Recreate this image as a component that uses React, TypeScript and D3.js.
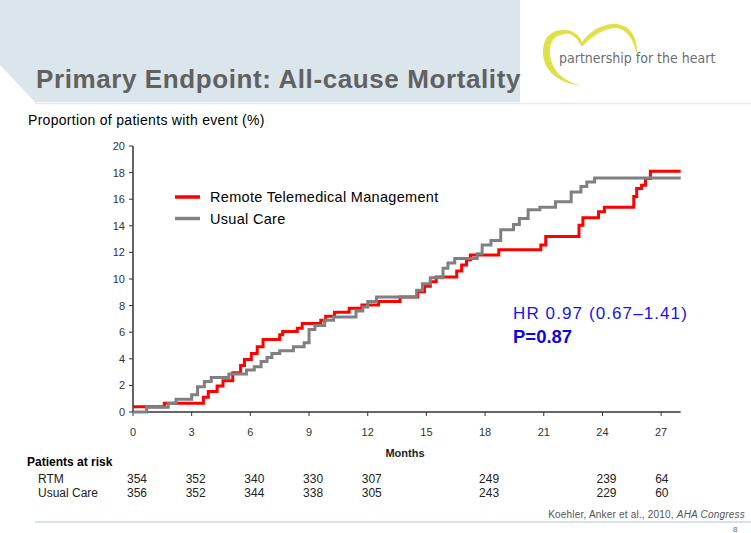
import * as d3 from "d3";

// Kaplan-Meier style step curves: [month, % with event]
const rtmSteps: [number, number][] = [
  [0, 0.4], [1.6, 0.65], [3.6, 1.1], [3.85, 1.55], [4.3, 1.95], [4.6, 2.35], [5.1, 2.95],
  [5.5, 3.5], [5.7, 3.95], [6.05, 4.4], [6.35, 4.9], [6.65, 5.45], [7.5, 5.8], [7.65, 6.05],
  [8.4, 6.3], [8.65, 6.65], [9.6, 6.9], [9.85, 7.2], [10.3, 7.5], [11.05, 7.8], [11.7, 8.05],
  [12.55, 8.3], [13.65, 8.65], [14.55, 9.05], [14.9, 9.45], [15.2, 9.8], [15.5, 10.15],
  [16.55, 10.6], [16.8, 11.05], [17.05, 11.45], [17.25, 11.8], [18.7, 12.2], [20.85, 12.55],
  [21.1, 13.2], [22.8, 14.05], [23.0, 14.6], [23.8, 15.05], [24.1, 15.4], [25.6, 16.2],
  [25.75, 16.8], [26.0, 17.05], [26.2, 17.55], [26.45, 18.1], [28, 18.1],
];

const usualSteps: [number, number][] = [
  [0, 0], [0.7, 0.35], [1.8, 0.65], [2.2, 0.95], [3.0, 1.3], [3.3, 1.9], [3.65, 2.3],
  [4.0, 2.6], [4.9, 2.85], [5.8, 3.15], [6.2, 3.4], [6.55, 3.8], [6.85, 4.1], [7.1, 4.4],
  [7.5, 4.6], [8.2, 4.9], [8.75, 5.2], [9.0, 6.2], [9.3, 6.5], [9.8, 6.9], [10.25, 7.15],
  [11.4, 7.6], [11.75, 7.9], [12.0, 8.3], [12.45, 8.65], [14.5, 9.15], [14.8, 9.65],
  [15.2, 10.1], [15.85, 10.8], [16.1, 11.2], [16.45, 11.55], [17.6, 11.9], [17.85, 12.55],
  [18.3, 12.9], [18.8, 13.7], [19.45, 14.1], [19.75, 14.55], [20.2, 15.2], [20.8, 15.4],
  [21.6, 15.8], [22.4, 16.55], [22.9, 16.95], [23.2, 17.3], [23.6, 17.6], [28, 17.6],
];

const yTicks = [0, 2, 4, 6, 8, 10, 12, 14, 16, 18, 20];
const xTicks = [0, 3, 6, 9, 12, 15, 18, 21, 24, 27];

const riskMonths = [0, 3, 6, 9, 12, 18, 24, 27];
const riskRTM = [354, 352, 340, 330, 307, 249, 239, 64];
const riskUsual = [356, 352, 344, 338, 305, 243, 229, 60];

const seriesNames = ["Remote Telemedical Management", "Usual Care"];
const seriesColors = ["#ff0000", "#808080"];

const W = 751, H = 533;
const FONT = "'Liberation Sans', Arial, sans-serif";

export default function App() {
  const x = d3.scaleLinear().domain([0, 28]).range([133, 680.7]);
  const y = d3.scaleLinear().domain([0, 20]).range([412, 146]);

  const line = d3.line<[number, number]>()
    .x(d => x(d[0]))
    .y(d => y(d[1]))
    .curve(d3.curveStepAfter);

  const series = [rtmSteps, usualSteps];

  return (
    <svg width={W} height={H} style={{ position: "absolute", left: 0, top: 0, background: "#fff" }}
      fontFamily={FONT}>
      {/* header band */}
      <path d="M0,0 H520 V102 H35 L0,65 Z" fill="#dae5ec" />
      <line x1={35} x2={751} y1={103.5} y2={103.5} stroke="#e3ebf0" strokeWidth={1.5} />
      <text x={36} y={88} fontSize={26} fontWeight="bold" fill="#616161" letterSpacing={0.6}>
        Primary Endpoint: All-cause Mortality
      </text>

      {/* logo */}
      <path
        d="M584,86 C560,84 542,72 543,50 C544,36 552,29 566,30 C575,31 580,36 582,42 C590,30 604,23 617,24 C631,26 638,38 637,55 C634,41 628,30 617,28 C604,28 592,36 583,46 L581,46 C577,38 572,33 565,34 C555,35 549,42 550,53 C551,70 563,82 584,86 Z"
        fill="#dfe04a" />
      <text x={559} y={63} fontSize={14} fill="#6e6e6e" fontFamily="'DejaVu Sans Condensed', 'Liberation Sans Narrow', sans-serif">
        partnership for the heart
      </text>

      {/* y label */}
      <text x={28} y={125} fontSize={14} fill="#000" letterSpacing={0.3}>Proportion of patients with event (%)</text>

      {/* axes */}
      <line x1={x(0)} x2={x(0)} y1={y(20)} y2={y(0)} stroke="#333" strokeWidth={1.5} />
      <line x1={x(0)} x2={x(28)} y1={y(0)} y2={y(0)} stroke="#333" strokeWidth={1.5} />
      {yTicks.map(t => (
        <g key={"y" + t}>
          <line x1={x(0) - 4} x2={x(0)} y1={y(t)} y2={y(t)} stroke="#333" strokeWidth={1} />
          <text x={x(0) - 8} y={y(t) + 4} fontSize={11} textAnchor="end" fill="#333">{t}</text>
        </g>
      ))}
      {xTicks.map(t => (
        <g key={"x" + t}>
          <line x1={x(t)} x2={x(t)} y1={y(0)} y2={y(0) + 4} stroke="#333" strokeWidth={1} />
          <text x={x(t)} y={436} fontSize={11} textAnchor="middle" fill="#333">{t}</text>
        </g>
      ))}
      <text x={405} y={457} fontSize={11} fontWeight="bold" textAnchor="middle" fill="#222">Months</text>

      {/* curves */}
      {series.map((s, i) => (
        <path key={i} d={line(s) || ""} fill="none" stroke={seriesColors[i]} strokeWidth={3}
          strokeLinejoin="miter" />
      ))}

      {/* legend */}
      {seriesNames.map((n, i) => (
        <g key={n}>
          <line x1={175} x2={200} y1={197 + i * 21.5} y2={197 + i * 21.5} stroke={seriesColors[i]} strokeWidth={3.5} />
          <text x={210} y={202 + i * 21.5} fontSize={14.5} fill="#000" letterSpacing={0.3}>{n}</text>
        </g>
      ))}

      {/* stats */}
      <text x={513} y={319} fontSize={17} fill="#1515ee" letterSpacing={1.1}>HR 0.97 (0.67–1.41)</text>
      <text x={513} y={343} fontSize={18.5} fontWeight="bold" fill="#0a0ae0">P=0.87</text>

      {/* patients at risk */}
      <text x={27} y={466} fontSize={12} fontWeight="bold" fill="#000">Patients at risk</text>
      <text x={38} y={483} fontSize={12} fill="#222">RTM</text>
      <text x={38} y={497} fontSize={12} fill="#222">Usual Care</text>
      {riskMonths.map((m, i) => (
        <g key={"r" + m}>
          <text x={x(m) - 6} y={483} fontSize={12} fill="#222">{riskRTM[i]}</text>
          <text x={x(m) - 6} y={497} fontSize={12} fill="#222">{riskUsual[i]}</text>
        </g>
      ))}

      {/* footer */}
      <text x={745} y={518} fontSize={10} textAnchor="end" fill="#555" letterSpacing={0.2}>
        Koehler, Anker et al., 2010, <tspan fontStyle="italic">AHA Congress</tspan>
      </text>
      <line x1={35} x2={751} y1={522} y2={522} stroke="#d6e1e8" strokeWidth={2} />
      <text x={733} y={532} fontSize={8} fill="#666">8</text>
    </svg>
  );
}
